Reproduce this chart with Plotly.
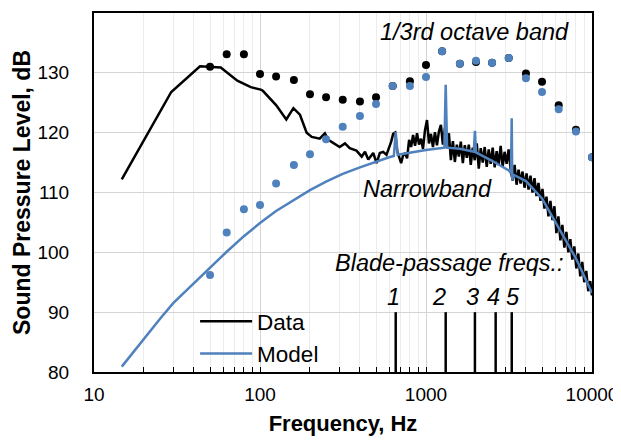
import math
import plotly.graph_objects as go

# ---------------- data ----------------
# narrowband measured spectrum (Data)
data_freq = [14.7, 29.2, 43.5, 58, 73, 88, 101, 104, 125, 144, 159, 174, 191, 205, 229,
             246, 258, 302, 325, 347, 381, 410, 429, 449, 481, 504, 527, 552, 578,
             600, 617, 634, 652, 670, 689, 708, 728, 748, 769, 791, 813, 836, 859, 883,
             908, 933, 959, 986, 1014, 1042, 1071, 1101, 1132, 1164, 1196, 1230, 1264,
             1300, 1336, 1374, 1412, 1452, 1492, 1534, 1577, 1621, 1667, 1713, 1761,
             1811, 1861, 1913, 1967, 2022, 2079, 2137, 2197, 2258, 2322, 2387, 2453,
             2522, 2593, 2665, 2740, 2817, 2895, 2976, 3060, 3145, 3233, 3324, 3417,
             3513, 3611, 3712, 3816, 3923, 4033, 4146, 4262, 4381, 4504, 4630, 4760,
             4893, 5030, 5171, 5316, 5465, 5618, 5775, 5937, 6103, 6274, 6450, 6630,
             6816, 7007, 7203, 7404, 7612, 7825, 8044, 8269, 8500, 8738, 8983, 9235,
             9493, 9759, 10000]
data_level = [112.2, 126.8, 131.1, 130.9, 128.7, 127.6, 127.2, 127.0, 124.6, 122.2, 124.1,
              123.0, 120.0, 119.3, 119.0, 119.9, 118.8, 117.6, 118.2, 117.4, 117.0, 116.0,
              116.8, 115.5, 116.6, 114.9, 116.6, 116.8, 116.3,
              117.5, 118.5, 119.8, 120.0, 117.0, 115.8, 114.9, 116.2, 116.6, 115.7, 118.8,
              117.6, 119.6, 117.8, 119.9, 118.0, 119.0, 117.3, 120.4, 122.1, 118.2, 119.8,
              117.6, 120.1, 117.9, 120.2, 121.3, 118.0, 120.8, 117.4, 119.9, 115.4, 118.6,
              115.1, 118.0, 116.0, 118.5, 114.9, 117.9, 115.8, 118.0, 114.6, 117.5, 115.4,
              118.2, 114.0, 117.4, 115.0, 117.6, 114.3, 117.2, 114.8, 117.5, 114.2, 116.9,
              114.6, 117.8, 114.3, 116.8, 114.8, 117.2, 113.9, 112.0, 114.6, 111.3, 113.8,
              111.5, 113.5, 110.8, 113.2, 110.5, 112.8, 110.0, 112.4, 109.4, 111.6, 108.6,
              110.6, 107.3, 109.3, 106.0, 108.6, 105.4, 107.7, 103.2, 106.0, 102.0, 104.6,
              100.8, 103.4, 100.0, 102.2, 98.8, 101.0, 97.3, 99.8, 96.0, 98.4, 95.0, 96.9,
              93.5, 95.2, 92.8]

# narrowband model spectrum (Model)
model_freq = [14.7, 20, 25, 30, 40, 50, 63, 80, 100, 125, 160, 200, 250, 315, 400, 500,
              600, 640, 657, 675, 800, 1000, 1290, 1314, 1340, 1600, 1940, 1972, 2000,
              2500, 3150, 3250, 3283, 3310, 3350, 4000, 5000, 6300, 8000, 10000]
model_level = [80.9, 85.6, 88.9, 91.5, 94.9, 97.4, 100.1, 102.7, 104.9, 106.9, 108.8,
               110.4, 111.8, 113.1, 114.2, 115.2, 115.9, 116.1, 120.1, 116.3, 116.7,
               117.1, 117.5, 128.0, 117.5, 117.3, 116.8, 120.3, 116.7, 115.3, 113.7,
               113.2, 122.4, 112.0, 113.0, 111.9, 109.0, 104.2, 99.0, 93.2]

# 1/3 octave bands
band_freq = [50, 63, 80, 100, 125, 160, 200, 250, 315, 400, 500, 630, 800, 1000, 1250,
             1600, 2000, 2500, 3150, 4000, 5000, 6300, 8000, 10000]
band_data = [131.0, 133.1, 133.1, 129.8, 129.4, 128.8, 126.4, 125.9, 125.5, 125.2, 125.9,
             127.8, 128.6, 131.3, 133.6, 131.5, 131.8, 131.7, 132.5, 129.9, 128.5, 124.6,
             120.5, 115.9]
band_model = [96.2, 103.3, 107.2, 107.9, 111.5, 114.6, 116.4, 118.9, 121.0, 122.8, 124.8,
              127.8, 127.8, 129.3, 133.6, 131.5, 132.0, 131.7, 132.5, 129.1, 126.8, 123.9,
              120.2, 115.9]

# blade-passage frequencies
bpf_freq = [657, 1314, 1971, 2628, 3285]
bpf_labels = ["1", "2", "3", "4", "5"]
bpf_bottom, bpf_top = 80, 90

x_tick_vals = [10, 100, 1000, 10000]
x_tick_text = ["10", "100", "1000", "10000"]

BLUE = "#4F81BD"
FONT = "Liberation Sans, Arial, sans-serif"
ANN = 23.5

fig = go.Figure()

fig.add_trace(go.Scatter(x=data_freq, y=data_level, mode="lines", name="Data",
                         line=dict(color="black", width=2.5)))
fig.add_trace(go.Scatter(x=model_freq, y=model_level, mode="lines", name="Model",
                         line=dict(color=BLUE, width=2.5)))
fig.add_trace(go.Scatter(x=band_freq, y=band_data, mode="markers", showlegend=False,
                         marker=dict(color="black", size=8)))
fig.add_trace(go.Scatter(x=band_freq, y=band_model, mode="markers", showlegend=False,
                         marker=dict(color=BLUE, size=8)))

# vertical blade-passage lines
bx, by = [], []
for f in bpf_freq:
    bx += [f, f, None]
    by += [bpf_bottom, bpf_top, None]
fig.add_trace(go.Scatter(x=bx, y=by, mode="lines", showlegend=False,
                         line=dict(color="black", width=2.5)))

# annotations (x in log10 units for a log axis)
def lx(f):
    return math.log10(f)

lab_shift = [-2, -7, -2, -2, 1]
for f, t, s in zip(bpf_freq, bpf_labels, lab_shift):
    fig.add_annotation(x=lx(f), y=92.6, xref="x", yref="y", text="<i>" + t + "</i>",
                       showarrow=False, xshift=s, font=dict(size=ANN, color="black", family=FONT))
fig.add_annotation(x=lx(1376), y=98.2, text="<i>Blade-passage freqs.:</i>", showarrow=False,
                   font=dict(size=ANN, color="black", family=FONT))
fig.add_annotation(x=lx(1028), y=110.6, text="<i>Narrowband</i>", showarrow=False,
                   font=dict(size=ANN, color="black", family=FONT))
fig.add_annotation(x=lx(1972), y=136.8, text="<i>1/3rd octave band</i>", showarrow=False,
                   font=dict(size=ANN, color="black", family=FONT))

# page body has an 8px default margin, so the figure is 8px smaller than the window
fig.update_layout(
    width=613, height=434,
    margin=dict(l=86, r=29, t=5, b=70, autoexpand=False),
    paper_bgcolor="white", plot_bgcolor="white",
    font=dict(family=FONT, size=19, color="black"),
    showlegend=True,
    legend=dict(x=0.203, y=0.2, xanchor="left", yanchor="top", itemwidth=52,
                bgcolor="rgba(0,0,0,0)", font=dict(size=22.5), tracegroupgap=0),
)
fig.update_xaxes(
    type="log", range=[1, 4], automargin=False,
    tickvals=x_tick_vals, ticktext=x_tick_text,
    showline=True, linecolor="black", linewidth=2, mirror=True,
    ticks="inside", ticklen=5, tickcolor="black",
    showgrid=True, gridcolor="#d4d4d4", gridwidth=1.3,
    minor=dict(ticks="inside", ticklen=5, tickcolor="black", dtick="D1",
               showgrid=True, gridcolor="#ececec", gridwidth=1.3),
    ticklabelstandoff=4,
    title=dict(text="<b>Frequency, Hz</b>", font=dict(size=22), standoff=12),
    zeroline=False,
)
fig.update_yaxes(
    range=[80, 140], dtick=10, automargin=False,
    showline=True, linecolor="black", linewidth=2, mirror=True,
    ticks="", showgrid=True, gridcolor="#d4d4d4", gridwidth=1.3,
    ticklabelstandoff=19,
    title=dict(text="<b>Sound Pressure Level, dB</b>", font=dict(size=23), standoff=0),
    zeroline=False,
)

fig.write_html("out.html")
